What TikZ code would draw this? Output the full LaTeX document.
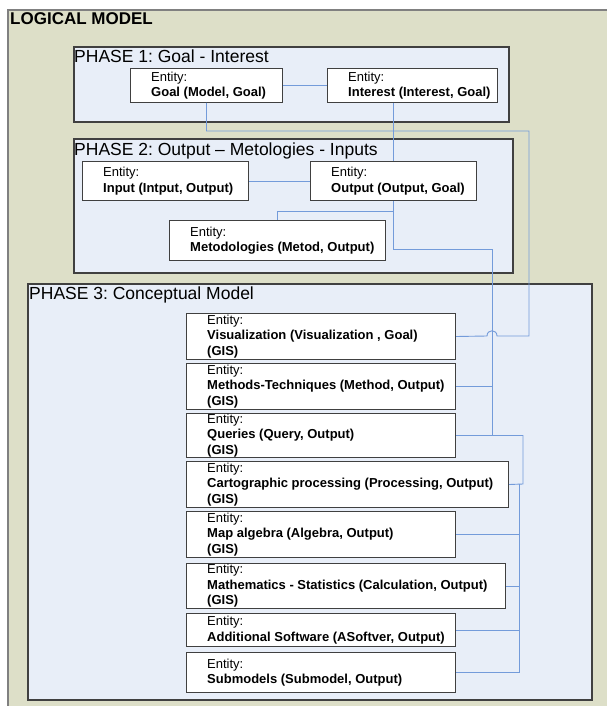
\documentclass[tikz,border=0pt]{standalone}
\usepackage{fontspec}
\setmainfont{Liberation Sans}
\usetikzlibrary{positioning}
\definecolor{olivebg}{RGB}{221,223,200}
\definecolor{phasebg}{RGB}{232,238,248}
\definecolor{linkblue}{RGB}{115,155,218}
\definecolor{boxline}{RGB}{64,64,64}
\frenchspacing
\begin{document}
\begin{tikzpicture}[x=1pt, y=-1pt,
    phase/.style={draw=boxline, line width=1.2pt, fill=phasebg},
    entity/.style={draw=boxline, line width=1pt, fill=white, inner sep=0pt, anchor=north west},
    etext/.style={inner sep=0pt, align=left, font=\fontsize{13}{15.5}\selectfont},
    title/.style={inner sep=0pt, anchor=base west, font=\fontsize{17.5}{20}\selectfont},
    link/.style={draw=linkblue, line width=0.9pt}]
    \useasboundingbox (0,0) rectangle (607,706);
    \fill[white] (0,0) rectangle (607,706);
    \draw[draw=gray, line width=1.5pt, fill=olivebg] (8,10) rectangle (615,715);
    \node[title, font=\fontsize{17}{20}\selectfont\bfseries] (logical) at (10,25) {LOGICAL MODEL};
    % phase 1
    \draw[phase] (74,47) rectangle (509,122);
    \node[title] (ph1) at (74,63) {PHASE 1: Goal - Interest};
    \node[entity, minimum width=152, minimum height=34] (goal) at (130,68) {};
    \node[etext, right=21pt of goal.west] (goal-t) {Entity:\\ \textbf{Goal (Model, Goal)}};
    \node[entity, minimum width=170, minimum height=34] (interest) at (327,68) {};
    \node[etext, right=21pt of interest.west] (interest-t) {Entity:\\ \textbf{Interest (Interest, Goal)}};
    % phase 2
    \draw[phase] (74,139) rectangle (513,273);
    \node[title] (ph2) at (74,155) {PHASE 2: Output -- Metologies - Inputs};
    \node[entity, minimum width=166, minimum height=39] (input) at (82,161) {};
    \node[etext, right=21pt of input.west] (input-t) {Entity:\\ \textbf{Input (Intput, Output)}};
    \node[entity, minimum width=166, minimum height=39] (output) at (310,161) {};
    \node[etext, right=21pt of output.west] (output-t) {Entity:\\ \textbf{Output (Output, Goal)}};
    \node[entity, minimum width=216, minimum height=40] (metod) at (169,220) {};
    \node[etext, right=21pt of metod.west] (metod-t) {Entity:\\ \textbf{Metodologies (Metod, Output)}};
    % phase 3
    \draw[phase] (28,284) rectangle (592,700);
    \node[title] (ph3) at (29,299) {PHASE 3: Conceptual Model};
    \node[entity, minimum width=269, minimum height=46] (vis) at (186,313) {};
    \node[etext, right=21pt of vis.west] (vis-t) {Entity:\\ \textbf{Visualization (Visualization , Goal)}\\ \textbf{(GIS)}};
    \node[entity, minimum width=269, minimum height=46] (meth) at (186,363) {};
    \node[etext, right=21pt of meth.west] (meth-t) {Entity:\\ \textbf{Methods-Techniques (Method, Output)}\\ \textbf{(GIS)}};
    \node[entity, minimum width=269, minimum height=44] (quer) at (186,413) {};
    \node[etext, right=21pt of quer.west] (quer-t) {Entity:\\ \textbf{Queries (Query, Output)}\\ \textbf{(GIS)}};
    \node[entity, minimum width=322, minimum height=46] (carto) at (186,461) {};
    \node[etext, right=21pt of carto.west] (carto-t) {Entity:\\ \textbf{Cartographic processing (Processing, Output)}\\ \textbf{(GIS)}};
    \node[entity, minimum width=269, minimum height=46] (map) at (186,511) {};
    \node[etext, right=21pt of map.west] (map-t) {Entity:\\ \textbf{Map algebra (Algebra, Output)}\\ \textbf{(GIS)}};
    \node[entity, minimum width=319, minimum height=45] (math) at (186,563) {};
    \node[etext, right=21pt of math.west] (math-t) {Entity:\\ \textbf{Mathematics - Statistics (Calculation, Output)}\\ \textbf{(GIS)}};
    \node[entity, minimum width=269, minimum height=33] (addsw) at (186,613) {};
    \node[etext, right=21pt of addsw.west] (addsw-t) {Entity:\\ \textbf{Additional Software (ASoftver, Output)}};
    \node[entity, minimum width=269, minimum height=40] (subm) at (186,652) {};
    \node[etext, right=21pt of subm.west] (subm-t) {Entity:\\ \textbf{Submodels (Submodel, Output)}};
    % links
    \coordinate (gbus) at (529,131);
    \coordinate (mbus) at (492,249);
    \coordinate (qbus) at (523,484);
    \coordinate (cbus) at (519,484);
    \draw[link] (goal.east) -- (interest.west);
    \draw[link] (goal.south) |- (gbus) |- (497,336) .. controls (497,329) and (487,329) .. (487,336) -- (vis.east);
    \draw[link] (output.north |- interest.south) -- (output.north);
    \draw[link] (input.east) -- (output.west);
    \draw[link] (output.south) -- ++(0,10) -| (metod.north);
    \draw[link] (output.south) |- (mbus) |- (quer.east);
    \draw[link] (meth.east) -- (meth.east -| mbus);
    \draw[link] (quer.east) -| (qbus) -- (carto.east);
    \draw[link] (cbus) |- (subm.east);
    \draw[link] (map.east) -- (map.east -| cbus);
    \draw[link] (math.east) -- (math.east -| cbus);
    \draw[link] (addsw.east) -- (addsw.east -| cbus);
\end{tikzpicture}
\end{document}
